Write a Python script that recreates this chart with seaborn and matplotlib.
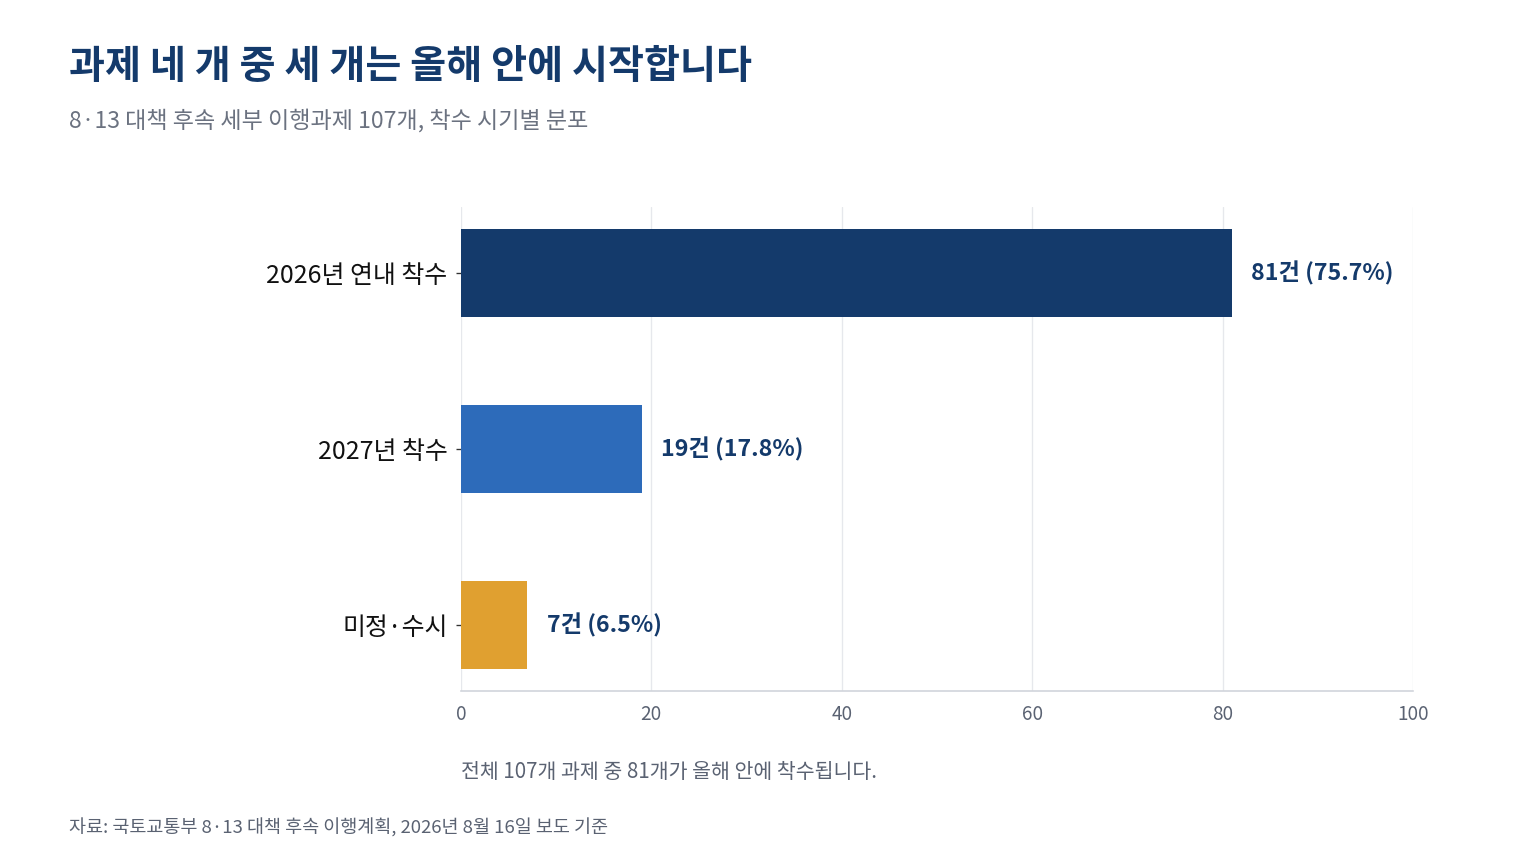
import matplotlib
matplotlib.use("Agg")
import matplotlib.pyplot as plt
import seaborn as sns
import pandas as pd

# 데이터
categories = ["2026년 연내 착수", "2027년 착수", "미정·수시"]
counts = [81, 19, 7]
shares = [75.7, 17.8, 6.5]
bar_colors = ["#143a6b", "#2d6bba", "#e0a030"]
x_ticks = [0, 20, 40, 60, 80, 100]

df = pd.DataFrame({"시기": categories, "건수": counts})

sns.set_theme(style="white")
plt.rcParams["font.family"] = ["Noto Sans CJK KR", "DejaVu Sans"]

fig = plt.figure(figsize=(16, 9), dpi=96)
ax = fig.add_axes([0.300, 0.200, 0.620, 0.560])

sns.barplot(data=df, x="건수", y="시기", hue="시기", palette=bar_colors,
            legend=False, width=0.5, saturation=1, linewidth=0, ax=ax, zorder=2)

# 값 라벨
for i, (c, s) in enumerate(zip(counts, shares)):
    ax.text(c + 2, i, f"{c}건 ({s}%)", va="center", ha="left",
            fontsize=17.4, fontweight="bold", color="#143a6b")

ax.set_xlim(0, 100)
ax.set_ylim(2.375, -0.375)
ax.set_xticks(x_ticks)
ax.set_xlabel("")
ax.set_ylabel("")
ax.grid(axis="x", color="#e6e8ec", linewidth=1, zorder=0)
ax.set_axisbelow(True)

for side in ["top", "right", "left"]:
    ax.spines[side].set_visible(False)
ax.spines["bottom"].set_color("#cfd3da")
ax.spines["bottom"].set_linewidth(1.2)

ax.tick_params(axis="x", colors="#cfd3da", labelcolor="#5a6272",
               labelsize=14.2, length=5, width=1, pad=5)
ax.tick_params(axis="y", colors="#333333", labelcolor="#111111",
               labelsize=18.7, length=4, width=1, left=True, pad=6)

# 제목과 부제
fig.text(69 / 1536, 1 - 66 / 864, "과제 네 개 중 세 개는 올해 안에 시작합니다",
         fontsize=29.3, fontweight="bold", color="#143a6b", va="center", ha="left")
fig.text(69 / 1536, 1 - 121 / 864, "8·13 대책 후속 세부 이행과제 107개, 착수 시기별 분포",
         fontsize=17.3, color="#6b7280", va="center", ha="left")

# 주석
fig.text(461 / 1536, 1 - 772 / 864, "전체 107개 과제 중 81개가 올해 안에 착수됩니다.",
         fontsize=15.4, color="#5a6272", va="center", ha="left")
fig.text(69 / 1536, 1 - 828 / 864, "자료: 국토교통부 8·13 대책 후속 이행계획, 2026년 8월 16일 보도 기준",
         fontsize=13.9, color="#5a6272", va="center", ha="left")

fig.savefig("out.png", dpi=96, facecolor="white")
